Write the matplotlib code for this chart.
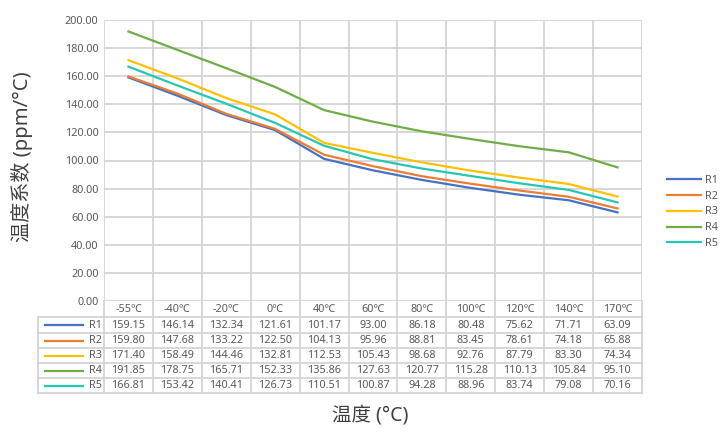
import matplotlib.pyplot as plt

plt.rcParams['font.family'] = ['Noto Sans', 'Noto Sans CJK SC', 'DejaVu Sans']

temps = ['-55℃', '-40℃', '-20℃', '0℃', '40℃', '60℃', '80℃', '100℃', '120℃', '140℃', '170℃']
series_names = ['R1', 'R2', 'R3', 'R4', 'R5']
r1 = [159.15, 146.14, 132.34, 121.61, 101.17, 93.00, 86.18, 80.48, 75.62, 71.71, 63.09]
r2 = [159.80, 147.68, 133.22, 122.50, 104.13, 95.96, 88.81, 83.45, 78.61, 74.18, 65.88]
r3 = [171.40, 158.49, 144.46, 132.81, 112.53, 105.43, 98.68, 92.76, 87.79, 83.30, 74.34]
r4 = [191.85, 178.75, 165.71, 152.33, 135.86, 127.63, 120.77, 115.28, 110.13, 105.84, 95.10]
r5 = [166.81, 153.42, 140.41, 126.73, 110.51, 100.87, 94.28, 88.96, 83.74, 79.08, 70.16]
yticks = [0, 20, 40, 60, 80, 100, 120, 140, 160, 180, 200]

series = [r1, r2, r3, r4, r5]
colors = ['#4472C4', '#ED7D31', '#FFC000', '#70AD47', '#26C6B4']
grid_c = '#D4D4D4'
txt_c = '#595959'
fs = 7.8

W, H = 725, 432
fig = plt.figure(figsize=(W / 100, H / 100), dpi=100)
L, T, R, B = 104, 20, 642, 301
ax = fig.add_axes([L / W, 1 - B / H, (R - L) / W, (B - T) / H])

n = len(temps)
xs = [i + 0.5 for i in range(n)]
for vals, c, name in zip(series, colors, series_names):
    ax.plot(xs, vals, color=c, lw=1.6, label=name, zorder=3)

ax.set_xlim(0, n)
ax.set_ylim(0, 200)
ax.set_yticks(yticks)
ax.set_yticklabels(['%.2f' % v for v in yticks], fontsize=fs, color=txt_c)
ax.set_xticks([])
for v in yticks:
    ax.axhline(v, color=grid_c, lw=1.3, zorder=1)
for i in range(n + 1):
    ax.axvline(i, color=grid_c, lw=1.3, zorder=1)
for s in ax.spines.values():
    s.set_visible(False)
ax.tick_params(axis='y', length=0, pad=4)

# data table under the plot (in data coords, 1px = 200/281 units)
px = 200 / (B - T)
rows_px = [301, 317, 333, 348, 363, 378, 393]
rows_y = [-(r - B) * px for r in rows_px]
colw = (R - L) / n
left_x = (38 - L) / colw
kw = dict(clip_on=False, color=grid_c, lw=1.3, zorder=1)
for i in range(n + 1):
    ax.plot([i, i], [0, rows_y[-1]], **kw)
ax.plot([left_x, left_x], [rows_y[1], rows_y[-1]], **kw)
for y in rows_y[1:]:
    ax.plot([left_x, n], [y, y], **kw)

hy = (rows_y[0] + rows_y[1]) / 2
for i, t in enumerate(temps):
    ax.text(i + 0.5, hy, t, ha='center', va='center', fontsize=fs, color=txt_c, clip_on=False)
for j, (vals, c, name) in enumerate(zip(series, colors, series_names)):
    y = (rows_y[j + 1] + rows_y[j + 2]) / 2
    ax.plot([(45 - L) / colw, (83 - L) / colw], [y, y], color=c, lw=1.6, clip_on=False)
    ax.text((102 - L) / colw, y, name, ha='right', va='center', fontsize=fs, color=txt_c)
    for i, v in enumerate(vals):
        ax.text(i + 0.5, y, '%.2f' % v, ha='center', va='center', fontsize=fs, color=txt_c)

# legend on the right
leg = fig.legend(loc='upper left', bbox_to_anchor=(657 / W, 1 - 165 / H), frameon=False,
                 fontsize=fs, handlelength=3.2, labelspacing=0.45, handletextpad=0.3)
for t in leg.get_texts():
    t.set_color(txt_c)

fig.text(370 / W, 1 - 416 / H, '温度 (°C)', ha='center', va='center', fontsize=14, color='#404040')
fig.text(22 / W, 1 - 157 / H, '温度系数 (ppm/°C)', ha='center', va='center', rotation=90,
         fontsize=14.5, color='#404040')

fig.savefig('out.png', dpi=100)
